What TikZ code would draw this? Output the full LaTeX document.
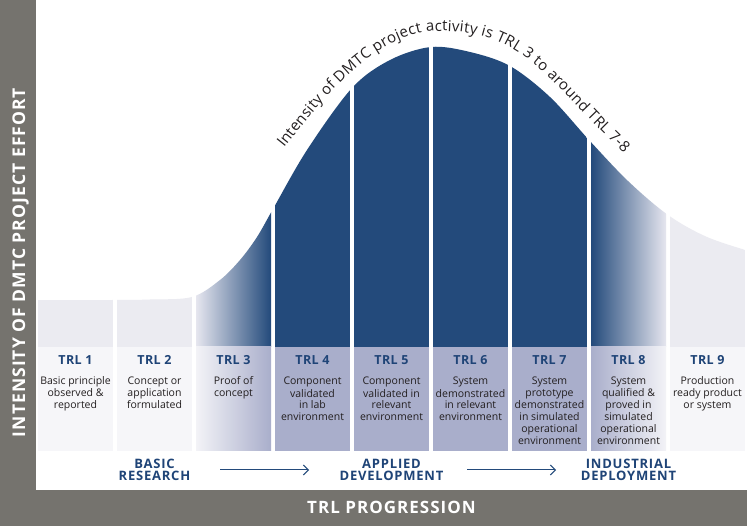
\documentclass[tikz,border=0pt]{standalone}
\usepackage{fontspec}
\setmainfont{Open Sans}
\newfontfamily\headfont[LetterSpace=3]{Open Sans}
\newfontfamily\phasefont[LetterSpace=6]{Open Sans}
\newfontfamily\barfont[LetterSpace=6]{Open Sans}
\usetikzlibrary{arrows.meta,decorations.text}
\definecolor{dkblue}{HTML}{234A7B}
\definecolor{hdblue}{HTML}{1F4477}
\definecolor{lav}{HTML}{A9AECB}
\definecolor{lavmid}{HTML}{A3A8C8}
\definecolor{pale}{HTML}{EBEBF1}
\definecolor{paler}{HTML}{F6F6F9}
\definecolor{fadeend}{HTML}{E6E6EF}
\definecolor{fadelab}{HTML}{F3F3F7}
\definecolor{bargray}{HTML}{75736E}
\definecolor{bodytext}{HTML}{231F20}
\begin{document}
\begin{tikzpicture}[x=1pt,y=-1pt,
  trlhead/.style={font=\headfont\bfseries\fontsize{12.5}{14}\selectfont, text=hdblue, anchor=base, inner sep=0pt},
  trlbody/.style={font=\fontsize{10.5}{12}\selectfont, text=bodytext, align=center, anchor=base, inner sep=0pt},
  phaselabel/.style={font=\phasefont\bfseries\fontsize{13}{13}\selectfont, text=hdblue, align=center, anchor=base, inner sep=0pt},
  progarrow/.style={draw=dkblue, line width=1pt, -{Straight Barb[length=5pt,width=10pt]}},
  bartext/.style={font=\barfont\bfseries\fontsize{17}{17}\selectfont, text=white, anchor=base, inner sep=0pt}
]
\useasboundingbox (0,0) rectangle (750,526);
\fill[white] (0,0) rectangle (750,526);
\fill[bargray] (0,0) rectangle (36,526);
\fill[bargray] (0,490) rectangle (747,526);

\def\curve{plot[smooth,tension=0.55] coordinates {(30,300) (113,300) (150,299.5) (192,297) (220,280) (240,260) (257,237) (273,209) (307,150) (352,88) (390,60) (431,47) (470,52) (510,66) (550,97) (589,140) (628,181) (668,215) (707,237) (752,252)}}

% upper parts under the curve
\begin{scope}
  \clip \curve -- (752,347) -- (30,347) -- cycle;
  \fill[pale] (38,0) rectangle (113,347);
  \fill[pale] (117,0) rectangle (192,347);
  \shade[left color=fadeend, middle color=lavmid, right color=dkblue] (196,0) rectangle (271,347);
  \fill[dkblue] (275,0) rectangle (350,347);
  \fill[dkblue] (354,0) rectangle (429,347);
  \fill[dkblue] (433,0) rectangle (508,347);
  \fill[dkblue] (512,0) rectangle (587,347);
  \shade[left color=dkblue, middle color=lavmid, right color=fadeend] (591,0) rectangle (666,347);
  \fill[pale] (670,0) rectangle (745,347);
\end{scope}

% label areas
\fill[paler] (38,347) rectangle (113,451);
\fill[paler] (117,347) rectangle (192,451);
\shade[left color=fadelab, right color=lav] (196,347) rectangle (271,451);
\fill[lav] (275,347) rectangle (350,451);
\fill[lav] (354,347) rectangle (429,451);
\fill[lav] (433,347) rectangle (508,451);
\fill[lav] (512,347) rectangle (587,451);
\shade[left color=lav, right color=fadelab] (591,347) rectangle (666,451);
\fill[paler] (670,347) rectangle (745,451);

% curve text
\path[decorate, decoration={text along path, text align=fit to path,
  text={|\fontsize{15}{15}\selectfont\color{bodytext}|Intensity of DMTC project activity is TRL 3 to around TRL 7-8}}]
  (284,148) .. controls (319.5,104) and (372.8,31) .. (440,31)
  .. controls (525.2,31) and (546.4,80.6) .. (624,153);

% TRL headings
\node[trlhead] (h1) at (75.5,365) {TRL 1};
\node[trlhead] (h2) at (154.5,365) {TRL 2};
\node[trlhead] (h3) at (233.5,365) {TRL 3};
\node[trlhead] (h4) at (312.5,365) {TRL 4};
\node[trlhead] (h5) at (391.5,365) {TRL 5};
\node[trlhead] (h6) at (470.5,365) {TRL 6};
\node[trlhead] (h7) at (549.5,365) {TRL 7};
\node[trlhead] (h8) at (628.5,365) {TRL 8};
\node[trlhead] (h9) at (707.5,365) {TRL 9};

% TRL descriptions (anchored at the baseline of their last line)
\node[trlbody] (d1) at (75.5,409) {Basic principle\\observed \&\\reported};
\node[trlbody] (d2) at (154.5,409) {Concept or\\application\\formulated};
\node[trlbody] (d3) at (233.5,397) {Proof of\\concept};
\node[trlbody] (d4) at (312.5,421) {Component\\validated\\in lab\\environment};
\node[trlbody] (d5) at (391.5,421) {Component\\validated in\\relevant\\environment};
\node[trlbody] (d6) at (470.5,421) {System\\demonstrated\\in relevant\\environment};
\node[trlbody] (d7) at (549.5,445) {System\\prototype\\demonstrated\\in simulated\\operational\\environment};
\node[trlbody] (d8) at (628.5,445) {System\\qualified \&\\proved in\\simulated\\operational\\environment};
\node[trlbody] (d9) at (707.5,409) {Production\\ready product\\or system};

% phases
\node[phaselabel] (basic) at (154.5,481) {BASIC\\RESEARCH};
\node[phaselabel] (applied) at (391.5,481) {APPLIED\\DEVELOPMENT};
\node[phaselabel] (industrial) at (628.5,481) {INDUSTRIAL\\DEPLOYMENT};
\coordinate (a1s) at (220,470);
\coordinate (a1e) at (309,470);
\coordinate (a2s) at (467,470);
\coordinate (a2e) at (556,470);
\draw[progarrow] (a1s) -- (a1e);
\draw[progarrow] (a2s) -- (a2e);

% axis bars
\node[bartext] (xlab) at (391.5,514) {TRL PROGRESSION};
\node[bartext, font=\barfont\bfseries\fontsize{17.5}{17.5}\selectfont, rotate=90] (ylab) at (25,262.5) {INTENSITY OF DMTC PROJECT EFFORT};
\end{tikzpicture}
\end{document}
